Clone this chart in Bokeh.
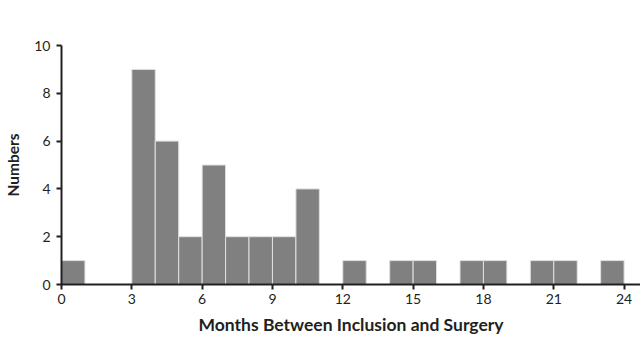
from bokeh.plotting import figure
from bokeh.embed import file_html
from bokeh.resources import INLINE
from bokeh.models import FixedTicker, Range1d

bin_start = [0, 3, 4, 5, 6, 7, 8, 9, 10, 12, 14, 15, 17, 18, 20, 21, 23]
counts = [1, 9, 6, 2, 5, 2, 2, 2, 4, 1, 1, 1, 1, 1, 1, 1, 1]
x_ticks = [0, 3, 6, 9, 12, 15, 18, 21, 24]
y_ticks = [0, 2, 4, 6, 8, 10]

p = figure(width=640, height=338, output_backend="svg", toolbar_location=None,
           x_range=Range1d(0, 24.7), y_range=Range1d(0, 10))
p.min_border_left = 61
p.min_border_right = 0
p.min_border_top = 45
p.min_border_bottom = 54
p.outline_line_color = None
p.grid.visible = False

p.quad(left=bin_start, right=[b + 1 for b in bin_start], bottom=0, top=counts,
       fill_color="#808080", line_color="#e0e0e0", line_width=1)

font = "Lato"
for ax in (p.xaxis[0], p.yaxis[0]):
    ax.axis_line_color = "#231f20"
    ax.axis_line_width = 2
    ax.major_tick_line_color = "#231f20"
    ax.major_tick_line_width = 2
    ax.major_tick_in = 0
    ax.major_tick_out = 5
    ax.minor_tick_line_color = None
    ax.major_label_text_font = font
    ax.major_label_text_font_size = "14px"
    ax.major_label_text_color = "#231f20"
    ax.axis_label_text_font = font
    ax.axis_label_text_font_style = "bold"
    ax.axis_label_text_color = "#231f20"

p.xaxis.axis_label_text_font_size = "17.5px"
p.yaxis.axis_label_text_font_size = "15.5px"
p.xaxis.ticker = FixedTicker(ticks=x_ticks)
p.yaxis.ticker = FixedTicker(ticks=y_ticks)
p.xaxis.axis_label = "Months Between Inclusion and Surgery"
p.yaxis.axis_label = "Numbers"
p.xaxis.major_label_standoff = 4
p.yaxis.major_label_standoff = 6
p.xaxis.axis_label_standoff = 7
p.yaxis.axis_label_standoff = 9

open("out.html", "w").write(file_html(p, INLINE))
